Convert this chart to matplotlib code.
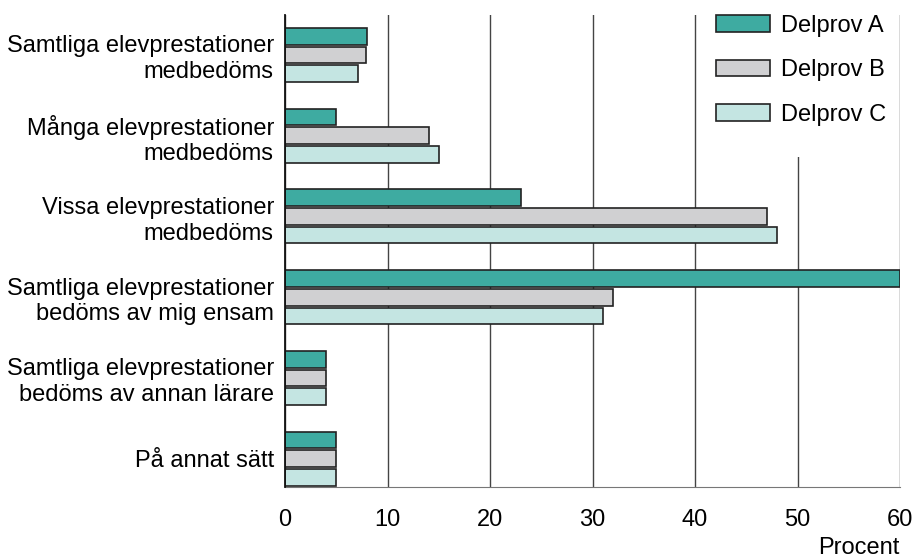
import numpy as np
import matplotlib.pyplot as plt
from matplotlib.patches import Rectangle

categories = [
    'Samtliga elevprestationer\nmedbedöms',
    'Många elevprestationer\nmedbedöms',
    'Vissa elevprestationer\nmedbedöms',
    'Samtliga elevprestationer\nbedöms av mig ensam',
    'Samtliga elevprestationer\nbedöms av annan lärare',
    'På annat sätt',
]
series = ['Delprov A', 'Delprov B', 'Delprov C']
delprov_a = [8, 5, 23, 60, 4, 5]
delprov_b = [7.9, 14, 47, 32, 4, 5]
delprov_c = [7.1, 15, 48, 31, 4, 5]
colors = ['#3eaba1', '#d0d0d2', '#c4e5e2']

plt.rcParams['font.family'] = ['Liberation Sans', 'DejaVu Sans']

fig = plt.figure(figsize=(9.14, 5.58), dpi=100)
ax = fig.add_axes([285 / 914, 1 - 487 / 558, 615 / 914, 472 / 558])

y = np.arange(len(categories))
step = 0.232
height = 0.205
for i, (name, vals) in enumerate(zip(series, [delprov_a, delprov_b, delprov_c])):
    ax.barh(y + (i - 1) * step, vals, height=height, color=colors[i],
            edgecolor='#222222', linewidth=1.2, label=name, zorder=3)

ax.set_xlim(0, 60)
ax.set_ylim(5.35, -0.495)
ax.set_xticks(range(0, 61, 10))
ax.set_yticks(y)
ax.set_yticklabels(categories, fontsize=17, linespacing=1.22, ha='right')
ax.tick_params(axis='y', length=0, pad=8)
ax.tick_params(axis='x', length=0, pad=16, labelsize=17)
ax.grid(axis='x', color='#444444', linewidth=1.0, zorder=1)
for s in ['top', 'right']:
    ax.spines[s].set_visible(False)
ax.spines['left'].set_color('#111111')
ax.spines['left'].set_linewidth(1.3)
ax.spines['left'].set_zorder(4)
ax.spines['bottom'].set_color('#777777')

# white area behind the legend hides the 50 gridline there
ax.add_patch(Rectangle((425 / 615, 1 - 142 / 472), 185 / 615, 142 / 472,
                       transform=ax.transAxes, facecolor='white',
                       edgecolor='none', zorder=2))

leg = ax.legend(loc='upper left', bbox_to_anchor=(704 / 914, 1 - 3 / 558),
                bbox_transform=fig.transFigure, fontsize=17, frameon=False,
                handlelength=2.3, handleheight=0.72, labelspacing=0.95,
                handletextpad=0.47, borderpad=0.0)
leg.set_zorder(5)

fig.text(900 / 914, 1 - 548 / 558, 'Procent', ha='right', va='center', fontsize=17)

fig.savefig('out.png', dpi=100)
